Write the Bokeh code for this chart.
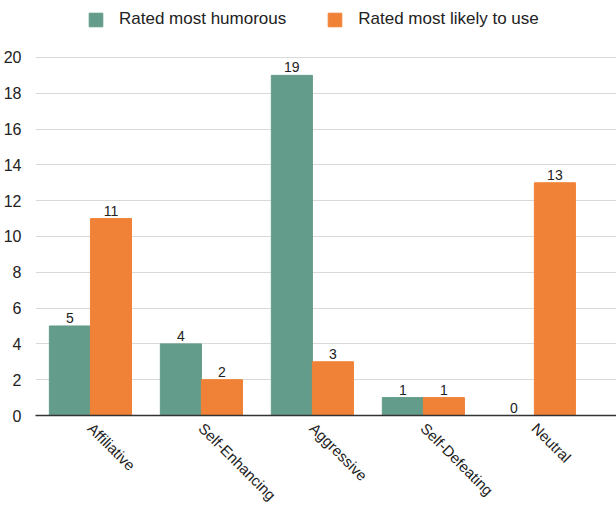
from bokeh.plotting import figure
from bokeh.models import ColumnDataSource, Range1d, FixedTicker, Legend, LegendItem, LabelSet
from bokeh.core.properties import value
from bokeh.embed import file_html
from bokeh.resources import INLINE

categories = ["Affiliative", "Self-Enhancing", "Aggressive", "Self-Defeating", "Neutral"]
humorous = [5, 4, 19, 1, 0]
likely = [11, 2, 3, 1, 13]
series_names = ["Rated most humorous", "Rated most likely to use"]
y_ticks = [0, 2, 4, 6, 8, 10, 12, 14, 16, 18, 20]

GREEN = "#639C8A"
ORANGE = "#F08237"
FONT = "Liberation Sans"

xs = list(range(len(categories)))
bw = 0.37
src_h = ColumnDataSource(dict(x=[i - bw / 2 for i in xs], top=humorous, lab=[str(v) for v in humorous]))
src_l = ColumnDataSource(dict(x=[i + bw / 2 for i in xs], top=likely, lab=[str(v) for v in likely]))

p = figure(width=616, height=512, output_backend="svg", toolbar_location=None,
           x_range=Range1d(-0.495, 4.74), y_range=Range1d(0, 23.18),
           min_border_left=35, min_border_right=0, min_border_top=0, min_border_bottom=96)
p.outline_line_color = None
p.background_fill_color = "white"

r1 = p.vbar(x="x", top="top", width=bw, bottom=0, source=src_h, fill_color=GREEN, line_color=GREEN, line_width=1)
r2 = p.vbar(x="x", top="top", width=bw, bottom=0, source=src_l, fill_color=ORANGE, line_color=ORANGE, line_width=1)

for src in (src_h, src_l):
    p.add_layout(LabelSet(x="x", y="top", text="lab", source=src, y_offset=3,
                          text_align="center", text_baseline="bottom",
                          text_font=value(FONT), text_font_size=value("14px"), text_color="#222222"))

# axes
p.xaxis.ticker = FixedTicker(ticks=xs)
p.xaxis.major_label_overrides = {i: c for i, c in enumerate(categories)}
p.xaxis.major_label_orientation = -0.785398
p.xaxis.major_label_text_font = FONT
p.xaxis.major_label_text_font_size = "15px"
p.xaxis.major_label_text_color = "#222222"
p.xaxis.major_tick_line_color = None
p.xaxis.minor_tick_line_color = None
p.xaxis.axis_line_color = "#333333"
p.xaxis.axis_line_width = 1.3
p.xaxis.major_label_standoff = 4

p.yaxis.ticker = FixedTicker(ticks=y_ticks)
p.yaxis.major_label_text_font = FONT
p.yaxis.major_label_text_font_size = "16px"
p.yaxis.major_label_text_color = "#222222"
p.yaxis.major_tick_line_color = None
p.yaxis.minor_tick_line_color = None
p.yaxis.axis_line_color = None
p.yaxis.major_label_standoff = 8

p.xgrid.grid_line_color = None
p.ygrid.grid_line_color = "#D9D9D9"
p.ygrid.grid_line_width = 1

legend = Legend(items=[LegendItem(label=series_names[0], renderers=[r1]),
                       LegendItem(label=series_names[1], renderers=[r2])],
                orientation="horizontal", location=(52, 386),
                glyph_width=17, glyph_height=17, label_standoff=15, spacing=40,
                padding=0, margin=0, border_line_color=None, background_fill_alpha=0,
                label_text_font=FONT, label_text_font_size="17px", label_text_color="#222222")
p.add_layout(legend, "center")

open("out.html", "w").write(file_html(p, INLINE))
